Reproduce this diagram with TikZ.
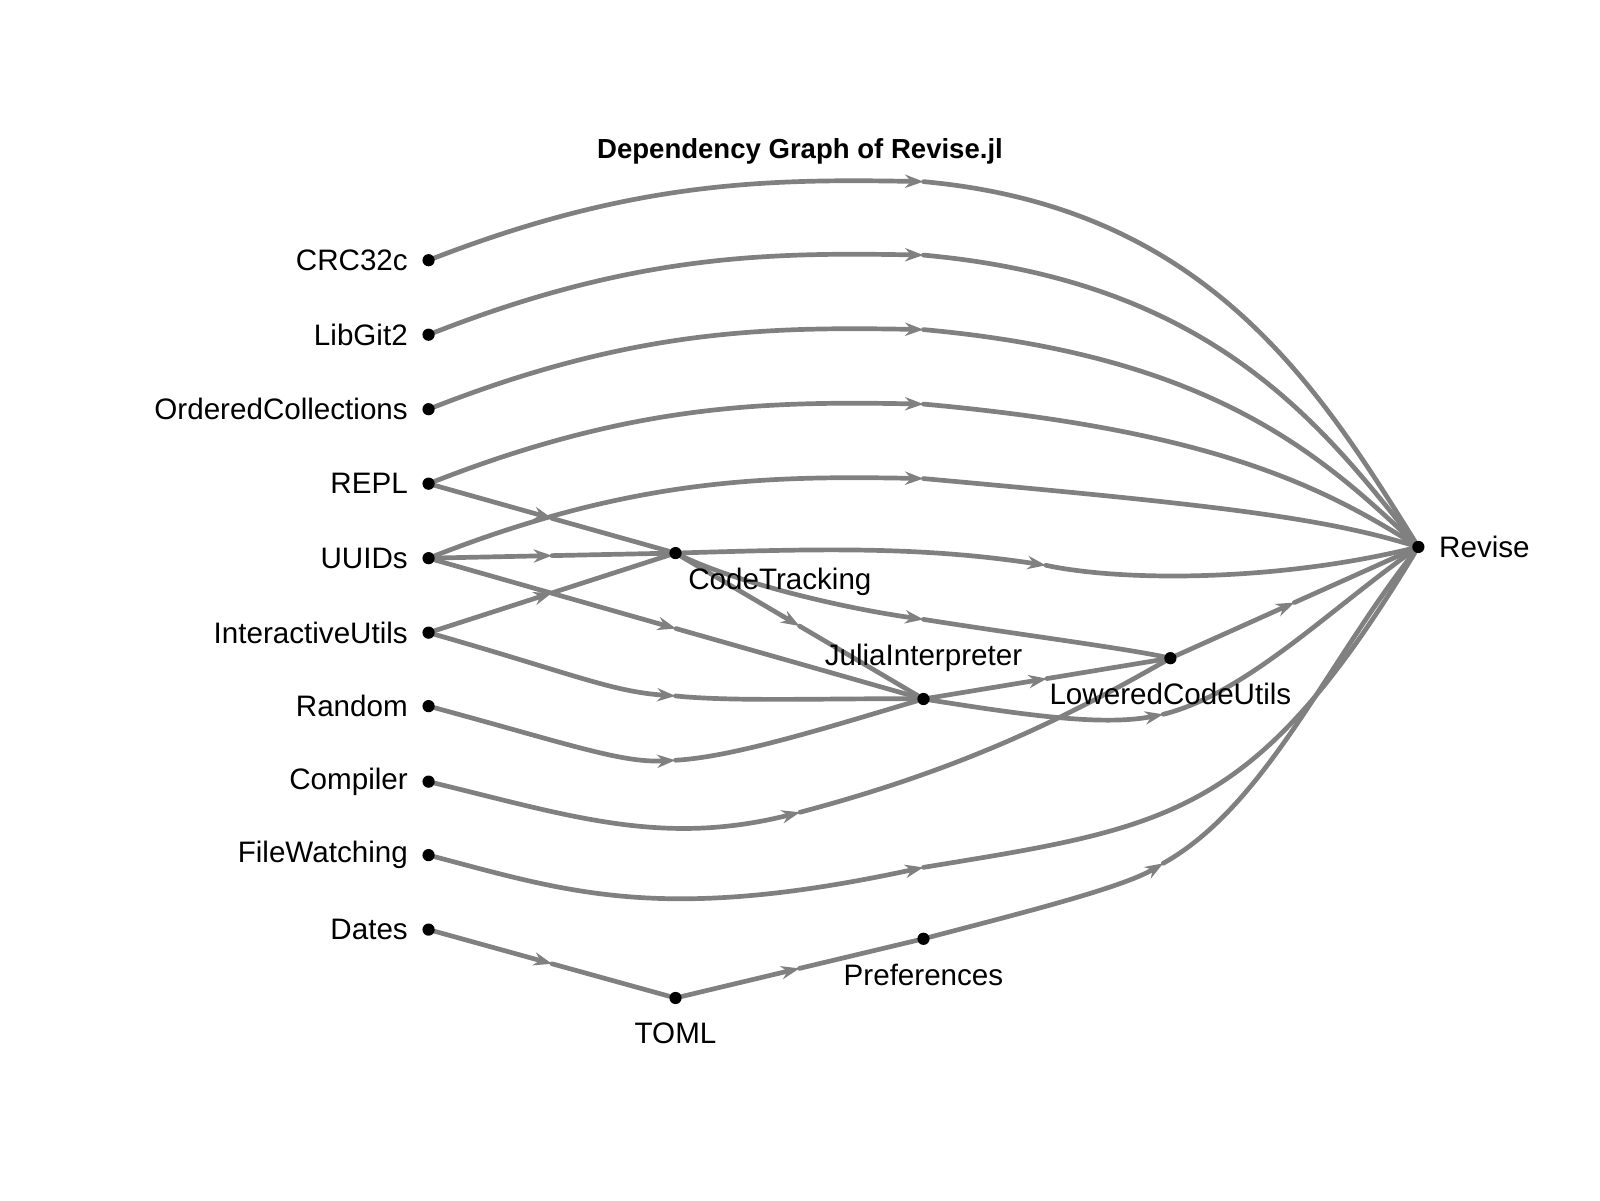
\documentclass[tikz,border=0pt]{standalone}
\usepackage{fontspec}
\setmainfont{Liberation Sans}
\usetikzlibrary{arrows.meta,calc,backgrounds}
\definecolor{edgec}{RGB}{128,128,128}
\tikzset{
  dot/.style={circle,fill=black,inner sep=0pt,minimum size=12pt},
  lab/.style={font=\fontsize{29}{33}\selectfont,inner sep=0pt},
  e/.style={draw=edgec,line width=4.6pt,line cap=round},
  a/.style={-{Stealth[length=18pt,width=13pt]}},
}
\newcommand\midedge[2]{\draw[e,a] (#1) -- ($(#1)!0.5!(#2)$); \draw[e] ($(#1)!0.5!(#2)$) -- (#2);}
\begin{document}
\begin{tikzpicture}[x=1pt,y=-1pt]
\useasboundingbox (0,0) rectangle (1568,1176);
\node[font=\bfseries\fontsize{27}{31}\selectfont] (title) at (784,148) {Dependency Graph of Revise.jl};
\foreach \n/\y in {CRC32c/255,LibGit2/328,OrderedCollections/401,REPL/474,UUIDs/547,InteractiveUtils/620,Random/692,Compiler/766,FileWatching/838,Dates/911}
  \node[dot,label={[lab,label distance=14pt]left:\n}] (\n) at (420,\y) {};
\node[dot,label={[lab,anchor=north west,xshift=8pt,yshift=-10pt]south east:CodeTracking}] (CT) at (662,542) {};
\node[dot,label={[lab,label distance=20pt]above:JuliaInterpreter}] (JI) at (905,685) {};
\node[dot,label={[lab,label distance=18pt]below:LoweredCodeUtils}] (LCU) at (1147,645) {};
\node[dot,label={[lab,label distance=18pt]below:Preferences}] (Pref) at (905,920) {};
\node[dot,label={[lab,label distance=18pt]below:TOML}] (TOML) at (662,978) {};
\node[dot,label={[lab,label distance=14pt]right:Revise}] (Revise) at (1390,536) {};
\begin{scope}[on background layer]
\foreach \n/\yd in {CRC32c/178,LibGit2/250,OrderedCollections/323,REPL/396,UUIDs/469}{
  \coordinate (d\n) at (905,\yd);
  \draw[e,a] (\n) .. controls (620,\yd) and (750,\yd-3) .. (d\n);
  \draw[e] (d\n) .. controls (1180,\yd+25) and (1290,{\yd+0.55*(536-\yd)}) .. (Revise);
}
\midedge{REPL}{CT}
\midedge{UUIDs}{CT}
\midedge{UUIDs}{JI}
\midedge{InteractiveUtils}{CT}
\midedge{Dates}{TOML}
\midedge{TOML}{Pref}
\midedge{CT}{JI}
\midedge{JI}{LCU}
\midedge{LCU}{Revise}
\coordinate (c1) at (1025,554);
\draw[e,a] (CT) .. controls (800,538) and (900,535) .. (c1);
\draw[e] (c1) .. controls (1100,570) and (1250,570) .. (Revise);
\coordinate (c2) at (662,682);
\draw[e,a] (InteractiveUtils) .. controls (560,660) and (600,678) .. (c2);
\draw[e] (c2) .. controls (720,688) and (820,684) .. (JI);
\coordinate (c3) at (662,745);
\draw[e,a] (Random) .. controls (560,730) and (610,748) .. (c3);
\draw[e] (c3) .. controls (720,742) and (820,710) .. (JI);
\coordinate (c4) at (784,796);
\draw[e,a] (Compiler) .. controls (560,800) and (650,830) .. (c4);
\draw[e] (c4) .. controls (950,752) and (1050,700) .. (LCU);
\coordinate (c5) at (905,850);
\draw[e,a] (FileWatching) .. controls (560,875) and (650,905) .. (c5);
\draw[e] (c5) .. controls (1150,810) and (1230,800) .. (Revise);
\coordinate (c6) at (1140,846);
\draw[e,a] (Pref) .. controls (1000,895) and (1100,870) .. (c6);
\draw[e] (c6) .. controls (1240,790) and (1300,650) .. (Revise);
\coordinate (c7) at (905,607);
\draw[e,a] (CT) .. controls (720,570) and (820,595) .. (c7);
\draw[e] (c7) .. controls (1000,622) and (1100,635) .. (LCU);
\coordinate (c8) at (1140,700);
\draw[e,a] (JI) .. controls (1000,700) and (1080,712) .. (c8);
\draw[e] (c8) .. controls (1220,680) and (1300,600) .. (Revise);
\end{scope}
\end{tikzpicture}
\end{document}
